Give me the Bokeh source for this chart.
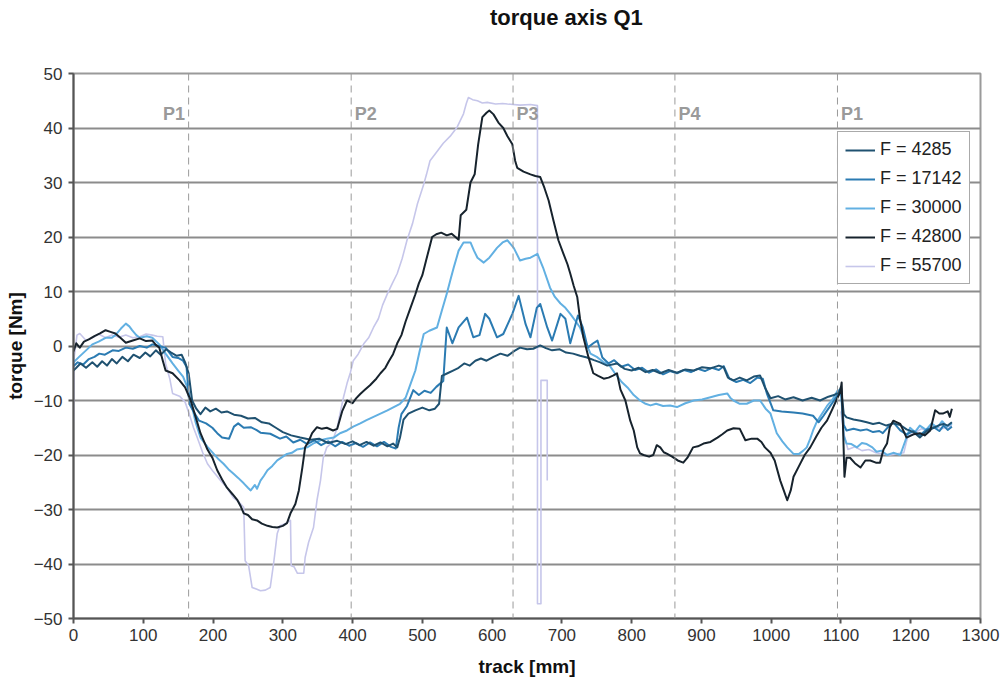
import numpy as np
from bokeh.plotting import figure
from bokeh.models import Span, Legend, LegendItem, FixedTicker, Range1d, Label, Div
from bokeh.layouts import column
from bokeh.embed import file_html
from bokeh.resources import INLINE

# ---------------- data ----------------
tick_x = list(range(0, 1301, 100))
tick_y = list(range(-50, 51, 10))
phase_x = [165, 398, 630, 862, 1095]
phase_labels = ["P1", "P2", "P3", "P4", "P1"]
title_text = "torque axis Q1"

series_names = ["F = 4285", "F = 17142", "F = 30000", "F = 42800", "F = 55700"]
series_colors = ["#1f5170", "#2b7bb2", "#62b0e2", "#17232d", "#c6c6ea"]

f4285 = [(0,-4.5),(4,-4.0),(10,-3.2),(18,-4.0),(27,-3.0),(34,-3.8),(41,-2.8),(48,-3.6),(55,-2.4),(62,-3.2),
 (70,-2.0),(78,-2.8),(86,-1.6),(95,-2.2),(103,-1.2),(110,-1.9),(118,-0.8),(125,-1.6),(133,-0.6),(140,-1.2),
 (148,-1.8),(155,-1.6),(160,-3.0),(165,-5.0),(170,-10.0),(176,-11.5),(182,-12.5),(189,-11.3),(196,-12.0),
 (204,-11.5),(212,-12.2),(220,-12.0),(230,-12.6),(240,-12.8),(250,-13.3),(260,-13.2),(270,-14.0),(280,-14.2),
 (290,-15.0),(300,-15.8),(312,-16.4),(325,-16.8),(340,-17.2),(352,-17.0),(365,-17.8),(378,-17.4),(390,-18.0),
 (400,-17.5),(410,-18.2),(420,-17.6),(430,-18.3),(440,-17.7),(450,-18.4),(458,-17.9),(464,-18.6),(468,-16.8),
 (473,-13.5),(480,-12.4),(490,-11.8),(500,-11.3),(510,-11.8),(518,-11.5),(524,-10.6),(528,-5.5),(536,-5.0),
 (544,-4.5),(552,-4.0),(560,-3.2),(568,-3.6),(576,-2.7),(584,-2.3),(592,-2.7),(602,-2.0),(612,-1.4),(622,-1.8),
 (632,-0.9),(640,-0.3),(650,-0.6),(659,-0.5),(669,0.1),(677,-0.4),(686,-0.8),(697,-0.6),(706,-1.2),(716,-1.4),
 (726,-1.8),(736,-2.1),(746,-2.6),(755,-3.0),(765,-3.6),(779,-3.2),(790,-4.2),(800,-4.5),(810,-4.0),(820,-4.8),
 (830,-4.4),(841,-5.0),(853,-4.4),(865,-4.9),(877,-4.3),(889,-4.5),(901,-3.9),(913,-4.1),(925,-3.6),(932,-3.9),
 (938,-5.8),(946,-6.3),(955,-5.8),(965,-6.3),(975,-5.6),(984,-5.4),(991,-7.6),(999,-9.6),(1010,-9.2),(1020,-9.8),
 (1032,-9.4),(1045,-10.0),(1058,-9.5),(1070,-10.0),(1082,-9.3),(1090,-9.0),(1097,-8.5),(1100,-7.5),(1104,-12.5),
 (1108,-13.1),(1118,-13.5),(1128,-13.7),(1137,-14.0),(1146,-14.3),(1155,-14.1),(1165,-14.6),(1175,-14.2),
 (1185,-14.5),(1194,-15.3),(1204,-15.8),(1213,-16.8),(1223,-15.6),(1233,-15.0),(1241,-14.5),(1247,-14.3),
 (1253,-14.6),(1259,-14.0)]

f17142 = [(0,-3.7),(6,-3.0),(14,-3.4),(22,-2.4),(30,-2.0),(37,-1.4),(45,-1.6),(56,-0.8),(65,-0.9),(75,-0.3),
 (85,-0.5),(95,0.0),(105,-0.3),(113,0.3),(122,0.0),(132,-0.3),(142,-2.0),(150,-2.2),(157,-2.7),(162,-3.8),
 (166,-10.6),(172,-12.0),(180,-13.7),(190,-14.2),(199,-15.0),(206,-16.0),(213,-16.8),(223,-17.0),(230,-14.8),
 (236,-14.2),(244,-15.0),(254,-14.9),(262,-15.4),(268,-15.9),(282,-16.1),(296,-17.0),(305,-16.6),(315,-17.7),
 (325,-17.2),(335,-18.0),(345,-17.3),(355,-18.2),(365,-17.5),(375,-18.4),(385,-17.6),(395,-18.3),(405,-17.8),
 (415,-18.5),(425,-17.7),(435,-18.4),(445,-17.6),(455,-18.5),(462,-18.8),(466,-15.0),(470,-12.5),(478,-11.0),
 (487,-8.1),(495,-9.0),(503,-8.2),(512,-8.6),(520,-7.5),(530,-6.4),(535,3.4),(543,0.5),(552,3.4),(564,5.2),
 (573,1.6),(582,2.0),(590,5.9),(596,5.0),(607,1.6),(616,2.2),(629,5.9),(638,9.2),(648,4.0),(655,1.6),(664,7.0),
 (669,7.7),(679,3.4),(686,1.0),(698,5.9),(705,5.0),(712,0.5),(723,5.6),(730,3.4),(737,-0.3),(745,0.5),(751,1.0),
 (758,-2.1),(767,-3.2),(775,-2.6),(785,-3.8),(795,-3.4),(805,-4.4),(815,-4.0),(825,-4.9),(835,-4.3),(845,-5.2),
 (855,-4.6),(865,-5.0),(875,-4.4),(885,-4.8),(895,-4.2),(905,-4.6),(915,-4.0),(925,-4.4),(932,-3.7),(940,-6.0),
 (950,-6.6),(960,-6.2),(970,-6.8),(980,-5.8),(988,-6.0),(994,-8.8),(1003,-11.8),(1015,-12.0),(1032,-12.2),
 (1045,-12.4),(1060,-12.8),(1068,-14.0),(1075,-12.8),(1082,-11.5),(1090,-10.0),(1095,-9.0),(1100,-8.2),
 (1104,-14.5),(1108,-15.5),(1118,-15.2),(1128,-15.5),(1137,-15.3),(1146,-15.8),(1155,-15.6),(1160,-16.0),
 (1168,-14.8),(1175,-14.0),(1185,-15.5),(1194,-16.2),(1204,-15.6),(1213,-16.4),(1223,-15.3),(1233,-14.9),
 (1241,-15.6),(1247,-14.6),(1253,-15.4),(1259,-14.8)]

f30000 = [(0,-3.0),(8,-2.0),(18,-0.8),(27,0.3),(36,0.8),(46,1.5),(55,1.5),(60,2.0),(68,3.2),(75,4.1),(80,3.6),
 (84,2.9),(90,2.0),(95,1.5),(105,1.8),(113,1.5),(123,0.3),(132,-1.4),(142,-3.2),(150,-4.5),(157,-5.6),(163,-7.5),
 (168,-10.0),(175,-14.0),(182,-16.8),(192,-18.5),(201,-19.8),(208,-20.8),(215,-21.6),(222,-22.6),(229,-23.4),
 (236,-24.2),(244,-25.2),(250,-26.0),(254,-26.5),(260,-25.5),(263,-26.2),(268,-24.7),(273,-23.8),(278,-22.8),
 (285,-22.0),(292,-21.0),(299,-20.4),(306,-19.8),(313,-19.6),(320,-19.0),(328,-18.8),(335,-18.6),(345,-17.8),
 (354,-17.3),(363,-17.0),(373,-16.8),(382,-16.0),(392,-15.5),(401,-14.8),(411,-14.2),(420,-13.6),(430,-13.0),
 (440,-12.4),(450,-11.8),(459,-11.2),(468,-10.6),(476,-9.5),(483,-7.0),(490,-4.5),(496,-1.0),(502,2.2),
 (510,2.8),(521,3.4),(528,6.5),(535,9.6),(540,12.0),(545,14.4),(552,17.5),(559,19.0),(569,19.0),(574,17.5),
 (579,16.2),(588,15.3),(596,16.2),(607,18.0),(615,19.0),(622,19.4),(631,18.0),(640,15.7),(648,16.0),(655,16.2),
 (665,16.9),(673,14.4),(683,10.7),(690,9.0),(698,7.8),(705,7.0),(712,5.9),(720,4.5),(726,3.4),(733,1.0),
 (741,-1.4),(750,-2.0),(759,-2.9),(768,-3.5),(776,-5.0),(785,-6.5),(794,-7.6),(803,-9.0),(812,-10.0),
 (820,-10.6),(827,-10.9),(835,-10.6),(845,-11.0),(855,-10.9),(865,-11.2),(877,-10.5),(889,-10.0),(901,-9.8),
 (913,-9.4),(925,-9.0),(937,-8.7),(942,-9.6),(946,-10.0),(955,-10.6),(965,-10.6),(975,-10.0),(984,-10.0),
 (992,-11.5),(999,-12.4),(1008,-16.0),(1016,-17.5),(1023,-18.6),(1032,-19.8),(1040,-19.8),(1046,-19.2),
 (1051,-18.6),(1056,-17.0),(1060,-15.5),(1065,-14.0),(1070,-13.0),(1080,-11.0),(1088,-9.8),(1095,-8.2),
 (1100,-8.0),(1104,-16.5),(1108,-17.9),(1115,-18.0),(1123,-18.6),(1130,-17.8),(1137,-18.0),(1145,-18.6),
 (1151,-19.4),(1158,-19.2),(1166,-20.0),(1175,-19.6),(1185,-20.0),(1192,-17.5),(1199,-15.0),(1206,-15.8),
 (1213,-14.6),(1222,-15.4),(1230,-14.2),(1238,-15.0),(1245,-13.8),(1252,-14.8),(1259,-14.2)]

f42800 = [(0,-1.0),(4,0.5),(9,-0.3),(15,0.8),(22,1.2),(30,1.8),(38,2.3),(46,2.9),(53,2.6),(60,2.3),(68,1.4),
 (75,0.6),(85,1.0),(95,1.4),(104,0.9),(113,1.0),(118,0.2),(123,-0.3),(128,-2.7),(132,-4.5),(142,-5.0),
 (152,-6.3),(160,-7.6),(168,-10.0),(175,-13.0),(182,-16.0),(187,-17.5),(192,-19.0),(199,-20.5),(206,-22.8),
 (213,-24.5),(220,-26.0),(228,-27.2),(235,-28.3),(240,-29.5),(244,-30.7),(250,-31.0),(256,-31.8),(263,-32.0),
 (270,-32.6),(278,-33.0),(285,-33.2),(292,-33.3),(300,-33.0),(306,-32.5),(311,-30.7),(318,-29.0),(323,-26.5),
 (328,-22.3),(332,-18.6),(337,-17.5),(342,-16.0),(349,-14.9),(356,-15.2),(363,-15.0),(372,-15.5),(378,-15.2),
 (385,-12.0),(392,-10.0),(400,-10.5),(405,-9.6),(411,-8.8),(418,-8.0),(425,-7.2),(434,-6.0),(440,-5.0),
 (447,-4.0),(452,-2.8),(458,-1.5),(464,0.5),(470,2.0),(476,4.5),(483,7.0),(490,9.5),(495,11.5),(500,13.0),
 (505,15.5),(510,18.0),(514,20.0),(520,20.5),(527,20.8),(535,20.3),(542,20.6),(552,19.5),(555,24.0),
 (563,25.0),(569,30.0),(575,31.5),(580,37.0),(586,42.0),(592,42.8),(596,43.2),(602,42.5),(609,41.0),
 (616,40.0),(622,38.5),(629,37.0),(633,34.0),(636,32.7),(645,32.0),(655,31.5),(662,31.2),(669,31.0),
 (675,29.0),(681,26.7),(688,23.0),(695,19.4),(702,17.0),(708,15.0),(712,13.3),(717,11.0),(722,9.0),
 (726,5.0),(731,1.5),(738,-2.0),(745,-5.0),(752,-5.5),(760,-6.0),(767,-5.8),(774,-5.4),(779,-5.0),(784,-8.0),
 (791,-10.0),(798,-13.7),(803,-15.5),(808,-18.6),(812,-19.7),(817,-20.0),(825,-20.3),(831,-20.0),(836,-18.2),
 (841,-18.6),(846,-19.5),(851,-19.8),(858,-20.3),(866,-21.0),(874,-21.4),(880,-20.5),(888,-18.6),(895,-18.4),
 (903,-17.9),(913,-17.6),(923,-16.8),(930,-16.2),(937,-15.5),(946,-15.1),(955,-15.2),(963,-17.3),(972,-17.0),
 (980,-17.0),(986,-17.6),(991,-18.6),(999,-19.6),(1005,-21.0),(1013,-24.7),(1018,-26.5),(1023,-28.3),
 (1028,-26.5),(1032,-24.0),(1040,-22.0),(1048,-20.0),(1056,-18.6),(1065,-16.5),(1072,-15.0),(1080,-13.7),
 (1088,-11.5),(1095,-9.5),(1099,-8.5),(1101,-6.7),(1103,-15.0),(1105,-24.0),(1108,-20.5),(1113,-20.5),
 (1120,-21.5),(1128,-22.3),(1135,-21.0),(1142,-21.0),(1150,-21.4),(1156,-21.4),(1161,-19.0),(1166,-17.9),
 (1170,-14.9),(1175,-13.7),(1185,-14.3),(1194,-16.8),(1204,-16.2),(1213,-16.0),(1220,-16.4),(1228,-15.5),
 (1235,-11.8),(1241,-12.4),(1246,-12.4),(1253,-12.0),(1256,-13.0),(1259,-11.5)]

f55700 = [(0,-14.0),(1,-2.0),(5,2.0),(9,2.3),(18,1.0),(27,1.5),(36,2.2),(46,1.5),(55,2.0),(65,1.6),(75,2.0),
 (85,1.5),(95,1.7),(104,2.2),(113,2.0),(120,1.8),(128,1.7),(132,-3.2),(138,-6.0),(142,-8.7),(152,-9.2),
 (160,-10.3),(166,-12.5),(172,-15.0),(178,-17.0),(185,-19.5),(192,-21.6),(200,-23.0),(211,-24.7),(220,-26.0),
 (229,-27.8),(236,-28.5),(244,-29.6),(246,-39.4),(251,-40.3),(256,-44.3),(262,-44.6),(268,-44.9),(275,-44.8),
 (282,-44.3),(287,-39.7),(292,-34.4),(296,-33.0),(305,-32.5),(311,-32.0),(312,-40.3),(316,-40.5),(321,-41.7),
 (326,-41.7),(330,-41.7),(332,-38.8),(337,-36.0),(344,-33.3),(349,-28.3),(354,-24.7),(358,-20.5),(363,-18.6),
 (368,-18.0),(373,-16.8),(378,-15.0),(382,-12.4),(387,-9.4),(392,-6.9),(397,-4.8),(401,-2.7),(408,-1.5),
 (416,0.4),(423,1.5),(430,3.4),(437,5.0),(443,7.5),(450,9.6),(457,11.5),(464,13.3),(471,16.0),(478,19.4),
 (486,22.5),(493,26.1),(502,29.7),(506,31.5),(511,34.0),(520,35.5),(530,37.2),(540,38.5),(550,40.2),
 (559,42.6),(563,44.5),(566,45.6),(572,45.2),(579,45.0),(586,44.6),(593,44.7),(605,44.4),(615,44.5),
 (622,44.4),(640,44.2),(655,44.3),(665,44.1),(665,-47.3),(670,-47.3),(670,-6.3),(679,-6.3),(679,-24.7),
 (None,None),
 (1100,-12.0),(1104,-16.0),(1110,-19.0),(1120,-18.5),(1130,-19.2),(1140,-19.0),(1150,-19.6),(1160,-19.8),
 (1170,-20.0),(1180,-19.8),(1190,-19.6),(1196,-16.5),(1205,-16.0),(1215,-15.2),(1225,-15.6),(1235,-14.8),
 (1245,-15.2),(1259,-14.6)]

series_data = [f4285, f17142, f30000, f42800, f55700]

# ---------------- figure ----------------
FONT = "Liberation Sans"
TITLE_H = 32
p = figure(width=1000, height=685 - TITLE_H, x_range=Range1d(0, 1300), y_range=Range1d(-50, 50),
           output_backend="svg", toolbar_location=None,
           min_border_left=73, min_border_right=20, min_border_top=73 - TITLE_H, min_border_bottom=67)
p.margin = 0
p.background_fill_color = "white"
p.border_fill_color = "white"
p.outline_line_color = "#9a9a9a"
p.outline_line_width = 2

p.xgrid.grid_line_color = None
p.ygrid.grid_line_color = "#8c8c8c"
p.ygrid.grid_line_width = 2
p.xaxis.ticker = FixedTicker(ticks=tick_x)
p.yaxis.ticker = FixedTicker(ticks=tick_y)
for ax in (p.xaxis[0], p.yaxis[0]):
    ax.axis_line_color = "#555555"
    ax.axis_line_width = 2
    ax.major_tick_line_color = "#555555"
    ax.major_tick_line_width = 2
    ax.major_tick_out = 5
    ax.major_tick_in = 0
    ax.minor_tick_line_color = None
    ax.major_label_text_font = FONT
    ax.major_label_text_font_size = "17px"
    ax.major_label_text_color = "#333333"
    ax.axis_label_text_font = FONT
    ax.axis_label_text_font_size = "19px"
    ax.axis_label_text_font_style = "bold"
    ax.axis_label_text_color = "#111111"
p.xaxis.axis_label = "track [mm]"
p.yaxis.axis_label = "torque [Nm]"
p.yaxis.major_label_standoff = 6
p.xaxis.major_label_standoff = 5
p.yaxis.axis_label_standoff = 5
p.xaxis.axis_label_standoff = 12

# phase markers
for px_ in phase_x:
    p.add_layout(Span(location=px_, dimension="height", line_color="#9a9a9a",
                      line_width=1, line_dash="7 5"))
for i, (px_, lab) in enumerate(zip(phase_x, phase_labels)):
    if i == 0:
        lbl = Label(x=px_ - 5, y=42.6, text=lab, text_align="right", text_baseline="middle")
    else:
        lbl = Label(x=px_ + 5, y=42.6, text=lab, text_align="left", text_baseline="middle")
    lbl.text_font = FONT
    lbl.text_font_size = "18px"
    lbl.text_font_style = "bold"
    lbl.text_color = "#9a9a9a"
    p.add_layout(lbl)

# series
renderers = {}
draw_order = [4, 2, 1, 0, 3]
widths = [2, 2, 2, 2, 1.6]
for idx in draw_order:
    pts = series_data[idx]
    xs = [np.nan if a is None else a for a, b in pts]
    ys = [np.nan if b is None else b for a, b in pts]
    r = p.line(xs, ys, line_color=series_colors[idx], line_width=widths[idx], line_join="round")
    renderers[idx] = r

items = [LegendItem(label=series_names[i], renderers=[renderers[i]]) for i in range(5)]
legend = Legend(items=items, location=(764, 334))
legend.label_text_font = FONT
legend.label_text_font_size = "18px"
legend.label_text_color = "#222222"
legend.glyph_width = 30
legend.glyph_height = 20
legend.label_height = 20
legend.label_standoff = 5
legend.spacing = 8
legend.padding = 7
legend.margin = 0
legend.border_line_color = "#555555"
legend.border_line_width = 1
legend.background_fill_alpha = 1.0
p.add_layout(legend)

# title as a header block above the figure
title_div = Div(
    text=('<div style="position:relative; left:490px; top:5px; white-space:nowrap; '
          'font-family:\'Liberation Sans\', Arial, sans-serif; font-size:22px; '
          'font-weight:bold; color:#111111; line-height:25px;">' + title_text + '</div>'),
    width=1000, height=TITLE_H, margin=0)

layout = column(title_div, p, spacing=0, margin=0)
open("out.html", "w").write(file_html(layout, INLINE))
